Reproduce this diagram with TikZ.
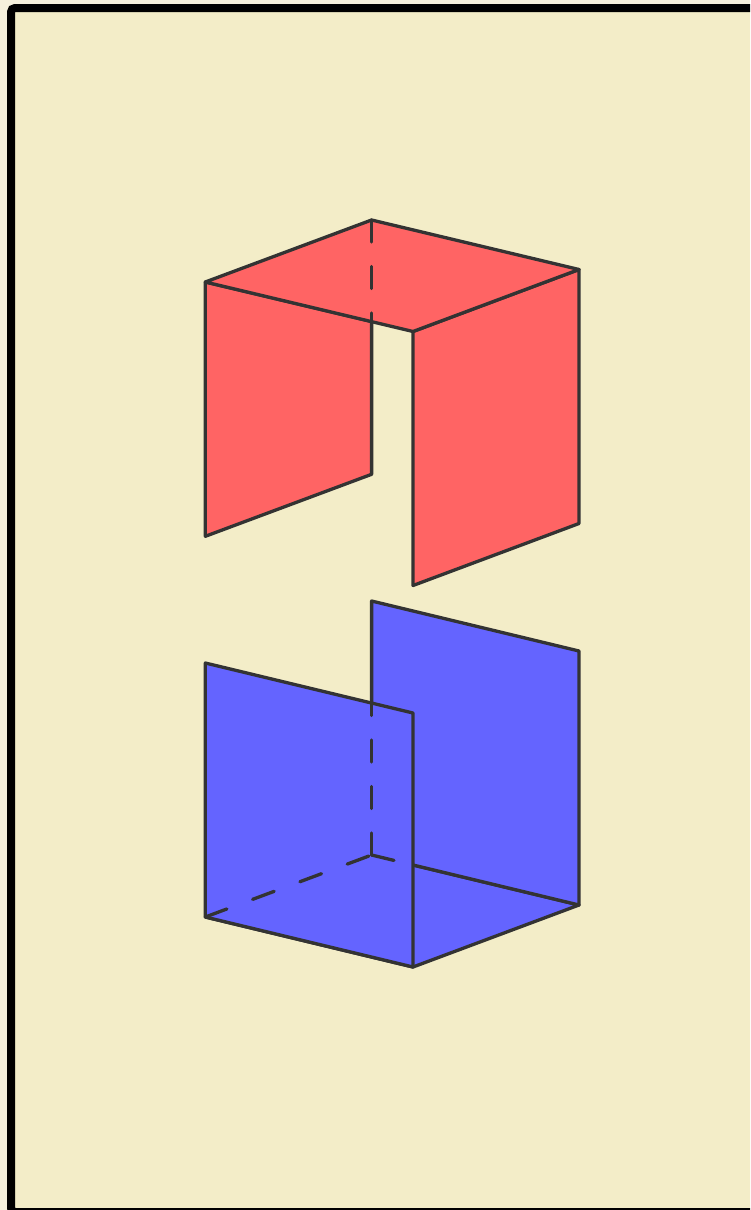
\documentclass[tikz,border=0pt]{standalone}
\definecolor{pagebg}{HTML}{F5F0DC}
\definecolor{panelbg}{HTML}{F3EDC8}
\definecolor{redface}{HTML}{FF6464}
\definecolor{blueface}{HTML}{6464FF}
\definecolor{edge}{HTML}{333333}
\tikzset{
  x=1pt,y=-1pt,
  panel/.style={fill=panelbg,draw=black,line width=8pt,rounded corners=4pt},
  redpanel/.style={fill=redface,draw=edge,line width=3.3pt,line join=round},
  bluepanel/.style={fill=blueface,draw=edge,line width=3.3pt,line join=round},
  solidedge/.style={draw=edge,line width=3.3pt,line cap=round},
  hidvert/.style={draw=edge,line width=3.3pt,line cap=round,dash pattern=on 22pt off 24.5pt},
  hiddepth/.style={draw=edge,line width=3.3pt,line cap=round,dash pattern=on 23pt off 27.5pt}
}
\begin{document}
\begin{tikzpicture}
\useasboundingbox (0,0) rectangle (750,1210);
\fill[pagebg] (0,0) rectangle (750,1210);
\begin{scope}
\clip (0,0) rectangle (750,1210);
\draw[panel] (11,8) rectangle (770,1212);
\end{scope}
% red box
\coordinate (ra) at (205.3,282);
\coordinate (rb) at (371.6,220);
\coordinate (rc) at (579,269.5);
\coordinate (rd) at (413,331.5);
\coordinate (re) at (371.6,321.5);
\coordinate (rf) at (371.6,474.3);
\coordinate (rg) at (205.3,536.3);
\coordinate (rh) at (579,523.5);
\coordinate (ri) at (413,585.5);
\draw[redpanel] (ra) -- (re) -- (rf) -- (rg) -- cycle;
\draw[redpanel] (rd) -- (rc) -- (rh) -- (ri) -- cycle;
\draw[redpanel] (ra) -- (rb) -- (rc) -- (rd) -- cycle;
\draw[hidvert] (rb) -- (re);
\draw[solidedge] (re) -- (rf);
% blue box
\coordinate (ba) at (205.3,917);
\coordinate (bb) at (371.6,855);
\coordinate (bc) at (579,905);
\coordinate (bd) at (413,967);
\coordinate (be) at (371.6,601);
\coordinate (bf) at (579,651);
\coordinate (bg) at (205.3,663);
\coordinate (bh) at (413,713);
\coordinate (bi) at (371.6,703);
\coordinate (bj) at (413,865);
\draw[bluepanel] (ba) -- (bb) -- (bc) -- (bd) -- cycle;
\draw[bluepanel] (be) -- (bf) -- (bc) -- (bb) -- cycle;
\draw[bluepanel] (bg) -- (bh) -- (bd) -- (ba) -- cycle;
\draw[hidvert] (bb) -- (bi);
\draw[hiddepth] (bb) -- (bj);
\draw[hiddepth] (ba) -- (bb);
\end{tikzpicture}
\end{document}
